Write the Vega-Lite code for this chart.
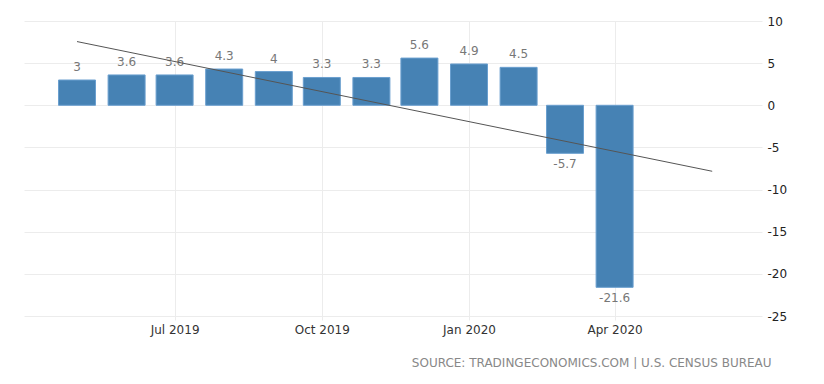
{
  "$schema": "https://vega.github.io/schema/vega-lite/v6.json",
  "width": 738,
  "height": 295,
  "padding": {"left": 24, "top": 15, "right": 0, "bottom": 0},
  "background": "white",
  "config": {
    "view": {"stroke": null},
    "font": "DejaVu Sans"
  },
  "title": {
    "text": "SOURCE: TRADINGECONOMICS.COM | U.S. CENSUS BUREAU",
    "orient": "bottom",
    "anchor": "end",
    "fontSize": 12,
    "fontWeight": "normal",
    "color": "#888888",
    "offset": 23,
    "dx": -15
  },
  "datasets": {
    "bars": [
      {"date": "2019-05-01", "value": 3},
      {"date": "2019-06-01", "value": 3.6},
      {"date": "2019-07-01", "value": 3.6},
      {"date": "2019-08-01", "value": 4.3},
      {"date": "2019-09-01", "value": 4},
      {"date": "2019-10-01", "value": 3.3},
      {"date": "2019-11-01", "value": 3.3},
      {"date": "2019-12-01", "value": 5.6},
      {"date": "2020-01-01", "value": 4.9},
      {"date": "2020-02-01", "value": 4.5},
      {"date": "2020-03-01", "value": -5.7},
      {"date": "2020-04-01", "value": -21.6}
    ],
    "trend": [
      {"date": "2019-05-01", "value": 7.56},
      {"date": "2020-06-01", "value": -7.83}
    ]
  },
  "layer": [
    {
      "data": {"name": "bars"},
      "mark": {"type": "bar", "size": 37, "fill": "#4682b4", "stroke": "#6a9fcf", "strokeWidth": 1},
      "encoding": {
        "x": {
          "field": "date",
          "type": "temporal",
          "scale": {
            "type": "utc",
            "domain": [
              {"year": 2019, "month": 4, "date": 1, "utc": true},
              {"year": 2020, "month": 6, "date": 29, "utc": true}
            ]
          },
          "axis": {
            "title": null,
            "values": [
              {"year": 2019, "month": 7, "date": 1, "utc": true},
              {"year": 2019, "month": 10, "date": 1, "utc": true},
              {"year": 2020, "month": 1, "date": 1, "utc": true},
              {"year": 2020, "month": 4, "date": 1, "utc": true}
            ],
            "labelExpr": "utcFormat(datum.value, '%b %Y')",
            "grid": true,
            "gridColor": "#ececec",
            "domain": false,
            "ticks": true,
            "tickSize": 4,
            "tickColor": "#ececec",
            "labelFontSize": 12,
            "labelColor": "#333333",
            "labelPadding": 4
          }
        },
        "y": {
          "field": "value",
          "type": "quantitative",
          "scale": {"domain": [-25, 10], "nice": false, "zero": false},
          "axis": {
            "title": null,
            "orient": "right",
            "values": [-25, -20, -15, -10, -5, 0, 5, 10],
            "labelExpr": "'' + datum.value",
            "grid": true,
            "gridColor": "#ececec",
            "domain": false,
            "ticks": false,
            "labelFontSize": 12,
            "labelColor": "#222222",
            "labelPadding": 5
          }
        }
      }
    },
    {
      "data": {"name": "bars"},
      "transform": [{"filter": "datum.value >= 0"}],
      "mark": {"type": "text", "baseline": "bottom", "dy": -6, "fontSize": 12, "color": "#777777"},
      "encoding": {
        "x": {"field": "date", "type": "temporal"},
        "y": {"field": "value", "type": "quantitative"},
        "text": {"field": "value", "type": "nominal"}
      }
    },
    {
      "data": {"name": "bars"},
      "transform": [{"filter": "datum.value < 0"}],
      "mark": {"type": "text", "baseline": "top", "dy": 6, "fontSize": 12, "color": "#777777"},
      "encoding": {
        "x": {"field": "date", "type": "temporal"},
        "y": {"field": "value", "type": "quantitative"},
        "text": {"field": "value", "type": "nominal"}
      }
    },
    {
      "data": {"name": "trend"},
      "mark": {"type": "line", "color": "#555555", "strokeWidth": 1},
      "encoding": {
        "x": {"field": "date", "type": "temporal"},
        "y": {"field": "value", "type": "quantitative"}
      }
    }
  ]
}
